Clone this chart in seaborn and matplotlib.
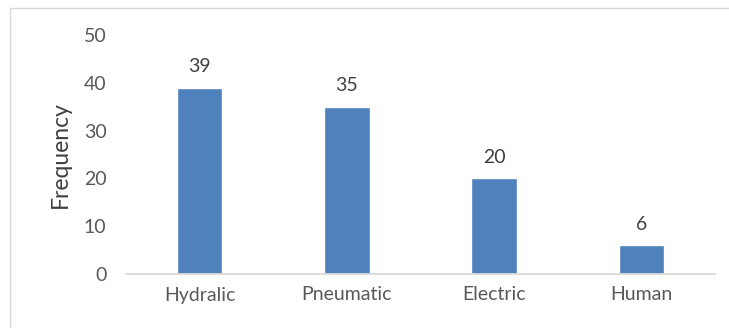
import matplotlib
matplotlib.use("Agg")
import matplotlib.pyplot as plt
import seaborn as sns
import pandas as pd
from matplotlib.patches import Rectangle

categories = ["Hydralic", "Pneumatic", "Electric", "Human"]
frequency = [39, 35, 20, 6]
yticks = [0, 10, 20, 30, 40, 50]

df = pd.DataFrame({"category": categories, "frequency": frequency})

sns.set_style("white")
plt.rcParams["font.family"] = ["Lato", "DejaVu Sans"]

fig = plt.figure(figsize=(7.29, 3.28), dpi=100)
ax = fig.add_axes([126/729, (328-274)/328, (715-126)/729, (274-35)/328])

sns.barplot(data=df, x="category", y="frequency", color="#4F81BD",
            width=0.31, saturation=1, ax=ax)

for i, v in enumerate(frequency):
    ax.annotate(str(v), (i, v), xytext=(0, 9), textcoords="offset points",
                ha="center", va="bottom", fontsize=14, color="#404040")

ax.set_ylim(0, 50)
ax.set_yticks(yticks)
ax.set_xlim(-0.5, 3.5)
ax.set_xlabel("")
ax.set_ylabel("Frequency", fontsize=16.5, color="#404040", labelpad=9)
ax.tick_params(axis="both", length=0, labelsize=14, labelcolor="#595959")
ax.tick_params(axis="y", pad=14)
ax.tick_params(axis="x", pad=9)
for s in ["top", "right", "left"]:
    ax.spines[s].set_visible(False)
ax.spines["bottom"].set_color("#D9D9D9")
ax.spines["bottom"].set_linewidth(1.3)

fig.patches.append(Rectangle((10/729, -0.1), 1.0, 1 - 8/328 + 0.1,
                             transform=fig.transFigure, fill=False,
                             edgecolor="#D9D9D9", linewidth=1))

fig.savefig("out.png", dpi=100)
